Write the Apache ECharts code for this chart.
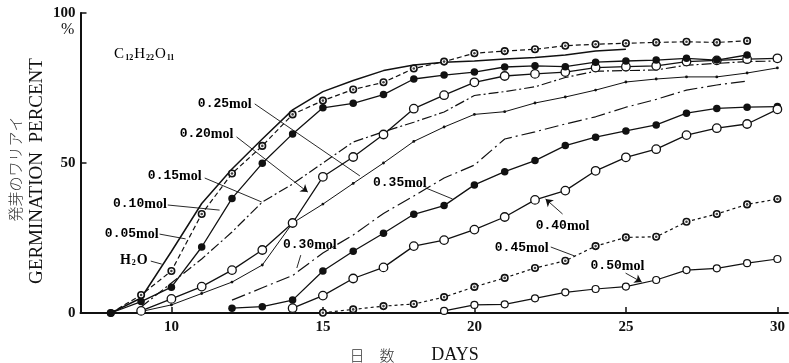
<!DOCTYPE html>
<html><head><meta charset="utf-8">
<script src="https://cdn.jsdelivr.net/npm/echarts@6/dist/echarts.min.js"></script>
<style>html,body{margin:0;padding:0;background:#fff}#c{width:789px;height:363px}</style>
</head><body><div id="c"></div>
<script>
// ---- data ----
const xTicks = [10, 15, 20, 25, 30];
const yTicks = [0, 50, 100];

const days_h2o = [8,9,10,11,12,13,14,15,16,17,18,19,20,21,22,23,24,25];
const vals_h2o = [0,5,20.5,36.5,48,58,67.7,73.8,77.5,80.8,82.7,83.6,84,84.7,85.2,86,87.3,87.9];

const days_005 = [8,9,10,11,12,13,14,15,16,17,18,19,20,21,22,23,24,25,26,27,28,29];
const vals_005 = [0,6,14,33,46.5,55.7,66.2,70.8,74.5,76.9,81.5,83.8,86.6,87.3,87.9,89.1,89.6,89.9,90.2,90.4,90.2,90.7];

const days_010 = [8,9,10,11,12,13,14,15,16,17,18,19,20,21,22,23,24,25,26,27,28,29];
const vals_010 = [0,3.8,8.6,22,38.2,49.9,59.7,68.4,69.9,72.8,78,79.3,80.3,82,82.4,82.1,83.6,84,84.3,84.9,84.3,86];

const days_015 = [9,10,11,12,13,14,15,16,17,18,19,20,21,22,23,24,25,26,27,28,29,30];
const vals_015 = [2,10,18,27,37,43,50,57,60.4,63.6,67,72.5,73.8,75.4,78.5,80.6,80.8,81,82.6,83.2,83.8,84];

const days_020 = [9,10,11,12,13,14,15,16,17,18,19,20,21,22,23,24,25,26,27,28,29,30];
const vals_020 = [0.7,4.7,8.8,14.3,21,30,45.4,52,59.5,68.1,72.6,76.9,79,79.7,80.3,81.8,82.1,82.4,83.8,84.2,84.6,84.9];

const days_025 = [9,10,11,12,13,14,15,16,17,18,19,20,21,22,23,24,25,26,27,28,29,30];
const vals_025 = [0.5,2.7,6.5,10.3,16,30,36.3,43.2,50,57.2,62,66.2,67.1,70,72,74.3,77,78,78.7,78.7,80,81.7];

const days_030 = [12,13,14,15,16,17,18,19,20,21,22,23,24,25,26,27,28,29];
const vals_030 = [4.3,8.4,12.5,20,26,33.2,39,45,49.3,58,60.4,63,65.4,68.6,71.2,74.3,76,77.3];

const days_035 = [12,13,14,15,16,17,18,19,20,21,22,23,24,25,26,27,28,29,30];
const vals_035 = [1.6,2.1,4.3,14,20.6,26.6,32.9,35.8,42.7,47.1,50.8,55.8,58.6,60.7,62.7,66.6,68.2,68.6,68.8];

const days_040 = [14,15,16,17,18,19,20,21,22,23,24,25,26,27,28,29,30];
const vals_040 = [1.6,5.8,11.5,15.2,22.3,24.3,27.8,32,37.7,40.8,47.4,51.9,54.6,59.3,61.6,63,67.9];

const days_045 = [15,16,17,18,19,20,21,22,23,24,25,26,27,28,29,30];
const vals_045 = [0.1,1.2,2.3,3,5.3,8.7,11.7,15,17.4,22.3,25.2,25.4,30.4,33,36.2,38];

const days_050 = [19,20,21,22,23,24,25,26,27,28,29,30];
const vals_050 = [0.7,2.7,2.9,4.9,6.9,8,8.8,11,14.3,14.9,16.6,18];

const labelTexts = ['0.25','0.20','0.15','0.10','0.05','H2O','0.30','0.35','0.40','0.45','0.50'];
// ---- end data ----

function pairs(d, v) { return d.map((x, i) => [x, v[i]]); }

const BLACK = '#111';
const S = {
  plain: { symbol: 'none' },
  ring: { symbol: 'circle', symbolSize: 6.5, itemStyle: { color: '#fff', borderColor: BLACK, borderWidth: 1.6 } },
  filled: { symbol: 'circle', symbolSize: 7.5, itemStyle: { color: BLACK, borderColor: BLACK, borderWidth: 0 } },
  open: { symbol: 'circle', symbolSize: 8.5, itemStyle: { color: '#fff', borderColor: BLACK, borderWidth: 1.3 } },
  openSmall: { symbol: 'circle', symbolSize: 7, itemStyle: { color: '#fff', borderColor: BLACK, borderWidth: 1.2 } },
  dot: { symbol: 'circle', symbolSize: 2.8, itemStyle: { color: BLACK, borderWidth: 0 } }
};

function lineSeries(name, d, v, marker, dash, width, z) {
  return Object.assign({
    name, type: 'line', data: pairs(d, v), z: z || 2,
    lineStyle: { color: BLACK, width: width || 1.3, type: dash || 'solid' },
    showSymbol: marker.symbol !== 'none', animation: false, silent: true
  }, JSON.parse(JSON.stringify(marker)));
}
function centerDots(d, v) {
  return { type: 'scatter', data: pairs(d, v), symbol: 'circle', symbolSize: 2.6, z: 10,
    itemStyle: { color: BLACK }, animation: false, silent: true };
}

const series = [
  lineSeries('H2O', days_h2o, vals_h2o, S.plain, 'solid', 1.5),
  lineSeries('0.05', days_005, vals_005, S.ring, [5, 3], 1.2, 3),
  centerDots(days_005, vals_005),
  lineSeries('0.15', days_015, vals_015, S.plain, [10, 3, 2, 3], 1.2),
  lineSeries('0.20', days_020, vals_020, S.open, 'solid', 1.3, 3),
  lineSeries('0.25', days_025, vals_025, S.dot, 'solid', 1.0),
  lineSeries('0.30', days_030, vals_030, S.plain, [14, 4, 2, 4], 1.2),
  lineSeries('0.35', days_035, vals_035, S.filled, 'solid', 1.3, 4),
  lineSeries('0.40', days_040, vals_040, S.open, 'solid', 1.3, 4),
  lineSeries('0.45', days_045, vals_045, S.ring, [3, 3], 1.2, 4),
  centerDots(days_045, vals_045),
  lineSeries('0.50', days_050, vals_050, S.openSmall, 'solid', 1.2, 4),
  lineSeries('0.10', days_010, vals_010, S.filled, 'solid', 1.3, 5)
];

// annotation placement (data space)
const labelPos = [[11.76,69.7],[11.16,59.7],[10.11,45.7],[8.96,36.3],[8.69,26.3],[8.76,17.7],[14.57,22.7],[17.54,43.3],[22.91,29],[21.56,21.7],[24.72,15.7]];
const leaders = [
  [[12.75,69.7],[16.22,45.7],false],
  [[12.15,58.7],[14.50,40.3],true],
  [[11.10,45.0],[12.98,37.0],false],
  [[9.88,36.0],[11.59,34.3],false],
  [[9.61,26.3],[10.47,24.7],false],
  [[9.32,17.3],[9.68,16.3],false],
  [[14.27,19.3],[14.14,15.0],false],
  [[18.39,41.7],[19.28,38.0],false],
  [[22.91,33.0],[22.35,38.0],true],
  [[22.52,22.0],[23.31,19.0],false],
  [[24.99,13.3],[25.52,10.3],true]
];

const TXT = '#000';
const base = { color: TXT, textBorderWidth: 0, opacity: 1 };
const rich = {
  n: Object.assign({ fontFamily: 'Liberation Mono', fontWeight: 'bold', fontSize: 13 }, base),
  m: Object.assign({ fontFamily: 'Liberation Serif', fontWeight: 'bold', fontSize: 14 }, base),
  h: Object.assign({ fontFamily: 'Liberation Serif', fontWeight: 'bold', fontSize: 14 }, base),
  s: Object.assign({ fontFamily: 'Liberation Serif', fontWeight: 'bold', fontSize: 8, padding: [7, 1, 0, 1] }, base),
  c: Object.assign({ fontFamily: 'Liberation Serif', fontSize: 15 }, base),
  cs: Object.assign({ fontFamily: 'Liberation Serif', fontWeight: 'bold', fontSize: 8, padding: [7, 1, 0, 1] }, base)
};

series.push({
  type: 'scatter', symbol: 'circle', symbolSize: 1, z: 20, animation: false, silent: true,
  itemStyle: { color: '#fff', opacity: 1 },
  data: labelTexts.map((t, i) => ({ value: labelPos[i], name: t })).concat([{ value: [9.12, 86.3], name: 'C12H22O11' }]),
  label: {
    show: true, position: 'inside', rich, color: TXT, textBorderWidth: 0, opacity: 1,
    formatter: p => {
      if (p.name === 'H2O') return '{h|H}{s|2}{h|O}';
      if (p.name === 'C12H22O11') return '{c|C}{cs|12}{c|H}{cs|22}{c|O}{cs|11}';
      return '{n|' + p.name + '}{m|mol}';
    }
  },
  labelLayout: { hideOverlap: false },
  markLine: {
    silent: true, animation: false, symbolSize: 7,
    label: { show: false },
    lineStyle: { color: BLACK, width: 0.9, type: 'solid', opacity: 1 },
    data: leaders.map(l => [
      { coord: l[0], symbol: 'none' },
      { coord: l[1], symbol: l[2] ? 'arrow' : 'none' }
    ])
  }
});

const chart = echarts.init(document.getElementById('c'), null, { renderer: 'canvas' });
chart.setOption({
  backgroundColor: '#fff',
  animation: false,
  grid: { left: 80.5, top: 13, width: 707.5, height: 300, containLabel: false },
  xAxis: {
    type: 'value', min: 7, max: 30.35,
    axisLine: { lineStyle: { color: BLACK, width: 2 } },
    axisTick: { inside: true, length: 6, lineStyle: { color: BLACK, width: 1.5 }, customValues: xTicks },
    axisLabel: { customValues: xTicks, color: BLACK, fontFamily: 'Liberation Serif', fontWeight: 'bold', fontSize: 15, margin: 7 },
    splitLine: { show: false }
  },
  yAxis: {
    type: 'value', min: 0, max: 100, interval: 50,
    axisLine: { show: true, lineStyle: { color: BLACK, width: 2 } },
    axisTick: { show: true, inside: true, length: 6, lineStyle: { color: BLACK, width: 1.5 } },
    axisLabel: { color: BLACK, fontFamily: 'Liberation Serif', fontWeight: 'bold', fontSize: 15, margin: 5,
      formatter: v => yTicks.indexOf(v) >= 0 ? String(v) : '' },
    splitLine: { show: false }
  },
  graphic: [
    { type: 'text', left: 61, top: 22, style: { text: '%', fontFamily: 'Liberation Serif', fontSize: 16, fill: BLACK } },
    { type: 'text', x: 15, y: 169, rotation: Math.PI / 2,
      style: { text: '発芽のワリアイ', fontFamily: 'Noto Sans CJK JP', fontWeight: 300, fontSize: 15, fill: '#333', align: 'center', verticalAlign: 'middle' } },
    { type: 'text', x: 37, y: 171, rotation: Math.PI / 2,
      style: { text: 'GERMINATION  PERCENT', fontFamily: 'Liberation Serif', fontSize: 19, fill: BLACK, align: 'center', verticalAlign: 'middle' } },
    { type: 'text', x: 372, y: 355,
      style: { text: '日　数', fontFamily: 'Noto Sans CJK JP', fontWeight: 300, fontSize: 15, fill: '#333', align: 'center', verticalAlign: 'middle' } },
    { type: 'text', x: 455, y: 355,
      style: { text: 'DAYS', fontFamily: 'Liberation Serif', fontSize: 18, fill: BLACK, align: 'center', verticalAlign: 'middle' } }
  ],
  series
});
</script>
</body></html>
